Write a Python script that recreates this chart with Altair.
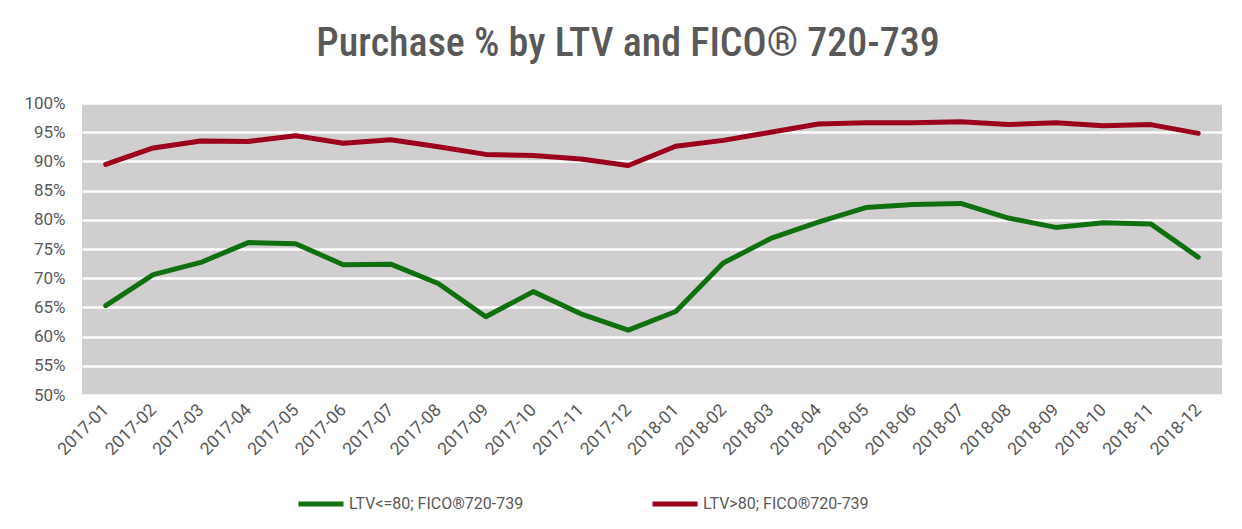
import altair as alt
import pandas as pd

months = ["2017-01","2017-02","2017-03","2017-04","2017-05","2017-06","2017-07","2017-08",
          "2017-09","2017-10","2017-11","2017-12","2018-01","2018-02","2018-03","2018-04",
          "2018-05","2018-06","2018-07","2018-08","2018-09","2018-10","2018-11","2018-12"]
ltv_le80 = [65.3, 70.6, 72.7, 76.1, 75.9, 72.3, 72.4, 69.1, 63.4, 67.7, 63.9, 61.1,
            64.3, 72.6, 76.8, 79.6, 82.1, 82.6, 82.8, 80.3, 78.7, 79.5, 79.3, 73.6]
ltv_gt80 = [89.5, 92.3, 93.5, 93.4, 94.4, 93.1, 93.7, 92.5, 91.2, 91.0, 90.4, 89.3,
            92.6, 93.6, 95.0, 96.4, 96.6, 96.6, 96.8, 96.3, 96.6, 96.1, 96.3, 94.8]
series_names = ["LTV<=80; FICO®720-739", "LTV>80; FICO®720-739"]
series_colors = ["#107010", "#9A0019"]
y_ticks = [50, 55, 60, 65, 70, 75, 80, 85, 90, 95, 100]

rows = []
for m, a, b in zip(months, ltv_le80, ltv_gt80):
    rows.append({"month": m, "value": a, "series": series_names[0]})
    rows.append({"month": m, "value": b, "series": series_names[1]})
df = pd.DataFrame(rows)

FONT = "Roboto"
GREY = "#595959"

chart = alt.Chart(df).mark_line(strokeWidth=5, strokeCap="round", strokeJoin="round").encode(
    x=alt.X("month:N", sort=months, title=None,
            scale=alt.Scale(paddingInner=0, paddingOuter=0.5),
            axis=alt.Axis(labelAngle=-45, labelAlign="right", labelBaseline="middle",
                          labelPadding=12, ticks=False, domain=False, grid=False,
                          labelFont=FONT, labelFontSize=17.5, labelColor=GREY)),
    y=alt.Y("value:Q", title=None,
            scale=alt.Scale(domain=[50, 100], nice=False, zero=False),
            axis=alt.Axis(values=y_ticks, labelExpr="datum.value + '%'", ticks=False,
                          domain=False, gridColor="white", gridWidth=2.5, gridOpacity=1,
                          labelPadding=17, labelFont=FONT, labelFontSize=17, labelColor=GREY)),
    color=alt.Color("series:N", sort=series_names,
                    scale=alt.Scale(domain=series_names, range=series_colors),
                    legend=alt.Legend(title=None, orient="none", direction="horizontal",
                                      legendX=214, legendY=376, symbolType="stroke",
                                      symbolStrokeWidth=5, symbolSize=2025,
                                      columnPadding=118, labelOffset=3,
                                      labelFont=FONT, labelFontSize=16, labelColor=GREY,
                                      labelLimit=400)),
).properties(
    width=1140, height=292,
    title=alt.TitleParams("Purchase % by LTV and FICO® 720-739", anchor="middle",
                          font="Liberation Sans Narrow, Roboto Condensed, Roboto",
                          fontSize=40, fontWeight=500, color=GREY, dx=-24, offset=30),
    autosize=alt.AutoSizeParams(type="none"),
    padding={"left": 74, "top": 95, "right": 12, "bottom": 126},
    background="white",
).configure_view(fill="#D0CECE", stroke=None)

chart.save("out.html", embed_options={"renderer": "svg", "actions": False})
